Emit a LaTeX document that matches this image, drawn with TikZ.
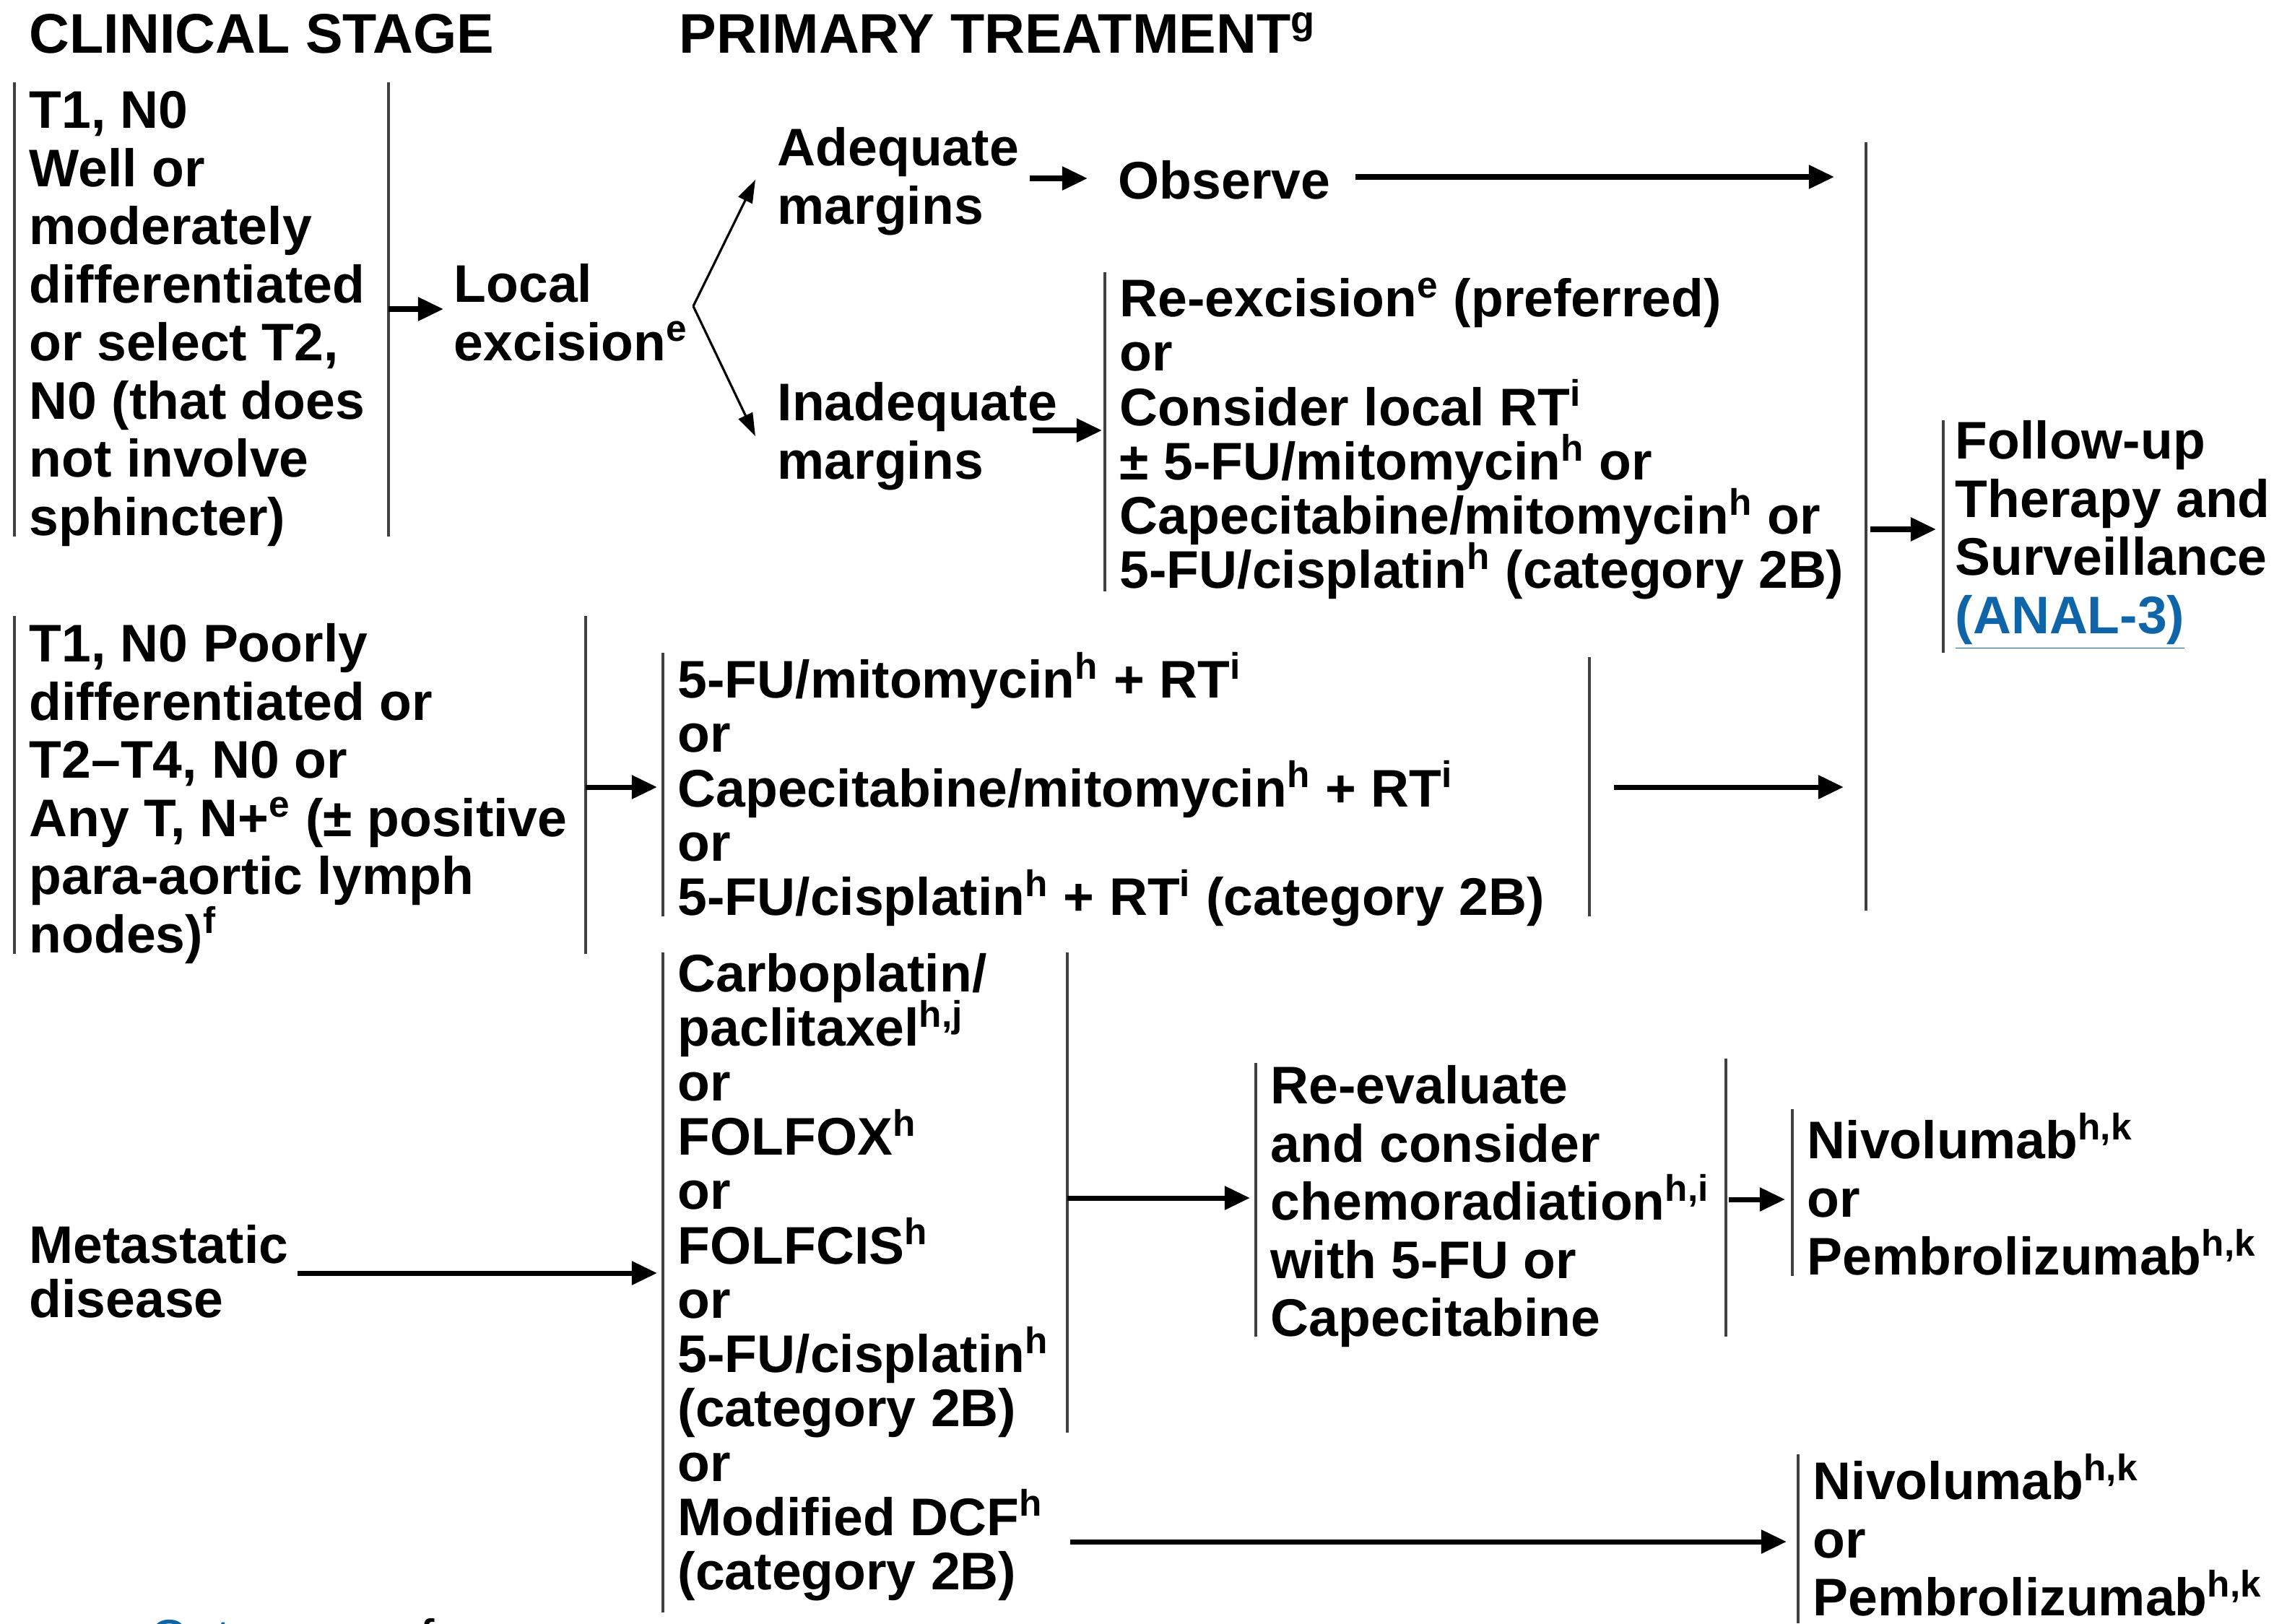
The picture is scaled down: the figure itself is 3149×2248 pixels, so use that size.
\documentclass[tikz,border=0pt]{standalone}
\usepackage{fontspec}
\setmainfont{Liberation Sans}
\usetikzlibrary{arrows.meta}
\definecolor{linkblue}{RGB}{16,100,168}
\setlength{\lineskiplimit}{-100pt}
\setlength{\lineskip}{0pt}
\newcommand\fl{\rule{0pt}{21pt}}
\newcommand\sups[1]{\textsuperscript{#1}}
\begin{document}
\begin{tikzpicture}[x=0.01cm,y=-0.01cm,
  txt/.style={anchor=north west, inner sep=0pt, align=left, yshift=21pt,
              font=\fontsize{20.85}{22.9}\bfseries\selectfont},
  tight/.style={font=\fontsize{20.85}{21.4}\bfseries\selectfont},
  head/.style={anchor=base west, inner sep=0pt, font=\fontsize{22}{24}\bfseries\selectfont},
  bar/.style={draw=black!75, line width=1.15pt},
  arr/.style={draw=black, line width=2pt, -{Triangle[length=10pt,width=9pt]}},
  thinarr/.style={draw=black, line width=0.9pt, -{Triangle[length=9pt,width=6pt]}}]
\useasboundingbox (0,0) rectangle (3149,2248);

% headers
\node[head] (h1) at (40,73) {CLINICAL STAGE};
\node[head] (h2) at (940,73) {PRIMARY TREATMENT\sups{g}};

% row 1
\node[txt] (stageA) at (40,177) {\fl T1, N0\\Well or\\moderately\\differentiated\\or select T2,\\N0 (that does\\not involve\\sphincter)};
\draw[bar] (20,114) -- (20,743);
\draw[bar] (538,114) -- (538,743);
\node[txt] (local) at (628,418) {\fl Local\\excision\sups{e}};
\coordinate (aA) at (538,428);
\coordinate (aAe) at (614,428);
\draw[arr] (aA) -- (aAe);

\coordinate (fork) at (960,424);
\coordinate (forkU) at (1046,249);
\coordinate (forkD) at (1046,604);
\draw[thinarr] (fork) -- (forkU);
\draw[thinarr] (fork) -- (forkD);

\node[txt] (adeq) at (1076,229) {\fl Adequate\\margins};
\node[txt] (inadeq) at (1076,582) {\fl Inadequate\\margins};
\node[txt] (observe) at (1548,275) {\fl Observe};
\coordinate (o1) at (1426,247);
\coordinate (o2) at (1506,247);
\draw[arr] (o1) -- (o2);
\coordinate (o3) at (1877,245);
\coordinate (o4) at (2540,245);
\draw[arr] (o3) -- (o4);

\coordinate (i1) at (1430,596);
\coordinate (i2) at (1526,596);
\draw[arr] (i1) -- (i2);
\draw[bar] (1530,377) -- (1530,819);
\node[txt,tight] (reexc) at (1550,438) {\fl Re-excision\sups{e} (preferred)\\or\\Consider local RT\sups{i}\\± 5-FU/mitomycin\sups{h} or\\Capecitabine/mitomycin\sups{h} or\\5-FU/cisplatin\sups{h} (category 2B)};

% collector
\draw[bar] (2584,197) -- (2584,1261);
\coordinate (f1) at (2590,733);
\coordinate (f2) at (2681,733);
\draw[arr] (f1) -- (f2);
\draw[bar] (2691,582) -- (2691,904);
\node[txt] (follow) at (2707,635) {\fl Follow-up\\Therapy and\\Surveillance\\\textcolor{linkblue}{\underline{(ANAL-3)}}};

% row 2
\node[txt] (stageB) at (40,916) {\fl T1, N0 Poorly\\differentiated or\\T2–T4, N0 or\\Any T, N+\sups{e} (± positive\\para-aortic lymph\\nodes)\sups{f}};
\draw[bar] (20,853) -- (20,1321);
\draw[bar] (811,853) -- (811,1321);
\coordinate (b1) at (811,1090);
\coordinate (b2) at (910,1090);
\draw[arr] (b1) -- (b2);
\draw[bar] (918,904) -- (918,1269);
\node[txt,tight] (chemo) at (938,966) {\fl 5-FU/mitomycin\sups{h} + RT\sups{i}\\or\\Capecitabine/mitomycin\sups{h} + RT\sups{i}\\or\\5-FU/cisplatin\sups{h} + RT\sups{i} (category 2B)};
\draw[bar] (2201,910) -- (2201,1269);
\coordinate (b3) at (2235,1090);
\coordinate (b4) at (2553,1090);
\draw[arr] (b3) -- (b4);

% row 3
\node[txt,tight] (meta) at (40,1749) {\fl Metastatic\\disease};
\coordinate (m1) at (412,1763);
\coordinate (m2) at (910,1763);
\draw[arr] (m1) -- (m2);
\draw[bar] (918,1319) -- (918,2233);
\draw[bar] (1478,1319) -- (1478,1984);
\node[txt,tight] (carbo) at (938,1373) {\fl Carboplatin/\\paclitaxel\sups{h,j}\\or\\FOLFOX\sups{h}\\or\\FOLFCIS\sups{h}\\or\\5-FU/cisplatin\sups{h}\\(category 2B)\\or\\Modified DCF\sups{h}\\(category 2B)};
\coordinate (c1) at (1478,1659);
\coordinate (c2) at (1731,1659);
\draw[arr] (c1) -- (c2);
\coordinate (d1) at (1482,2135);
\coordinate (d2) at (2474,2135);
\draw[arr] (d1) -- (d2);

\draw[bar] (1739,1472) -- (1739,1851);
\node[txt] (reeval) at (1759,1528) {\fl Re-evaluate\\and consider\\chemoradiation\sups{h,i}\\with 5-FU or\\Capecitabine};
\draw[bar] (2390,1466) -- (2390,1851);
\coordinate (r1) at (2394,1661);
\coordinate (r2) at (2472,1661);
\draw[arr] (r1) -- (r2);
\draw[bar] (2482,1536) -- (2482,1767);
\node[txt] (nivo1) at (2502,1604) {\fl Nivolumab\sups{h,k}\\or\\Pembrolizumab\sups{h,k}};

\draw[bar] (2490,2014) -- (2490,2248);
\node[txt] (nivo2) at (2510,2076) {\fl Nivolumab\sups{h,k}\\or\\Pembrolizumab\sups{h,k}};

% cut-off footnote line
\begin{scope}
\clip (0,0) rectangle (3149,2248);
\node[anchor=base west, inner sep=0pt, font=\fontsize{20.85}{22.9}\selectfont] (foot) at (-5,2294) {\textcolor{linkblue}{rmas: Cutaneous} for};
\end{scope}
\end{tikzpicture}
\end{document}
